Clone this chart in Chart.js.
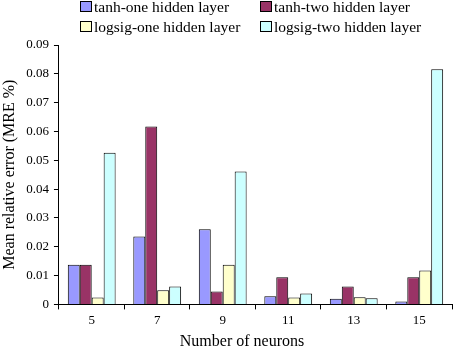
<!DOCTYPE html>
<html>
<head>
<meta charset="utf-8">
<script src="https://cdn.jsdelivr.net/npm/chart.js"></script>
<style>
  html, body { margin: 0; padding: 0; background: #fff; }
  #wrap { position: relative; width: 453px; height: 347px; font-family: "Liberation Serif", "Times New Roman", serif; }
  #chart { position: absolute; left: 0; top: 0; }
  .lg { position: absolute; font-size: 15.5px; line-height: 13px; color: #000; white-space: nowrap; }
  .lg span { display: inline-block; width: 10px; height: 9px; border: 1px solid #000; vertical-align: top; margin-right: 2px; margin-top: 1px; }
  #xtitle { position: absolute; left: 0; width: 484px; top: 332px; text-align: center; font-size: 16px; line-height: 18px; }
</style>
</head>
<body>
<div id="wrap">
  <canvas id="chart" width="453" height="347"></canvas>
  <div id="legend"></div>
  <div id="xtitle">Number of neurons</div>
</div>
<script>
var neurons = ['5', '7', '9', '11', '13', '15'];
var seriesNames = ['tanh-one hidden layer', 'tanh-two hidden layer', 'logsig-one hidden layer', 'logsig-two hidden layer'];
var tanhOne = [0.0138, 0.0236, 0.0261, 0.0028, 0.0020, 0.0010];
var tanhTwo = [0.0138, 0.0617, 0.0045, 0.0094, 0.0062, 0.0094];
var logsigOne = [0.0024, 0.0049, 0.0138, 0.0024, 0.0025, 0.0118];
var logsigTwo = [0.0526, 0.0062, 0.0461, 0.0038, 0.0021, 0.0816];
var colors = ['#9999ff', '#993366', '#ffffcc', '#ccffff'];
var yTicks = [0, 0.01, 0.02, 0.03, 0.04, 0.05, 0.06, 0.07, 0.08, 0.09];

// legend in two columns like the original
var legendPos = [[80, 0], [260, 0], [80, 20], [260, 20]];
var legend = document.getElementById('legend');
seriesNames.forEach(function (name, i) {
    var d = document.createElement('div');
    d.className = 'lg';
    d.style.left = legendPos[i][0] + 'px';
    d.style.top = legendPos[i][1] + 'px';
    d.innerHTML = '<span style="background:' + colors[i] + '"></span>' + name;
    legend.appendChild(d);
});

var allValues = [tanhOne, tanhTwo, logsigOne, logsigTwo];
var ctx = document.getElementById('chart').getContext('2d');
Chart.defaults.font.family = '"Liberation Serif", "Times New Roman", serif';
Chart.defaults.font.size = 13;
Chart.defaults.color = '#000';

var chart = new Chart(ctx, {
    type: 'bar',
    data: {
        labels: neurons,
        datasets: allValues.map(function (v, i) {
            return {
                label: seriesNames[i],
                data: v,
                backgroundColor: colors[i],
                borderColor: '#000',
                borderWidth: 1,
                categoryPercentage: 0.73,
                barPercentage: 1.0
            };
        })
    },
    options: {
        responsive: false,
        animation: false,
        layout: { padding: { top: 45, bottom: 16, right: 1, left: 0 } },
        plugins: { legend: { display: false }, tooltip: { enabled: false } },
        scales: {
            x: {
                grid: { offset: true, drawOnChartArea: false, color: '#000', tickLength: 5 },
                border: { color: '#000' },
                ticks: { padding: 3 }
            },
            y: {
                min: 0,
                max: 0.09,
                afterBuildTicks: function (axis) {
                    axis.ticks = yTicks.map(function (v) { return { value: v }; });
                },
                grid: { drawOnChartArea: false, color: '#000', tickLength: 5 },
                border: { color: '#000' },
                ticks: {
                    padding: 5,
                    callback: function (v) { return v === 0 ? '0' : v.toFixed(2); }
                },
                title: { display: true, text: 'Mean relative error (MRE %)', font: { size: 16 }, padding: { top: 0, bottom: 2 } }
            }
        }
    }
});
</script>
</body>
</html>
